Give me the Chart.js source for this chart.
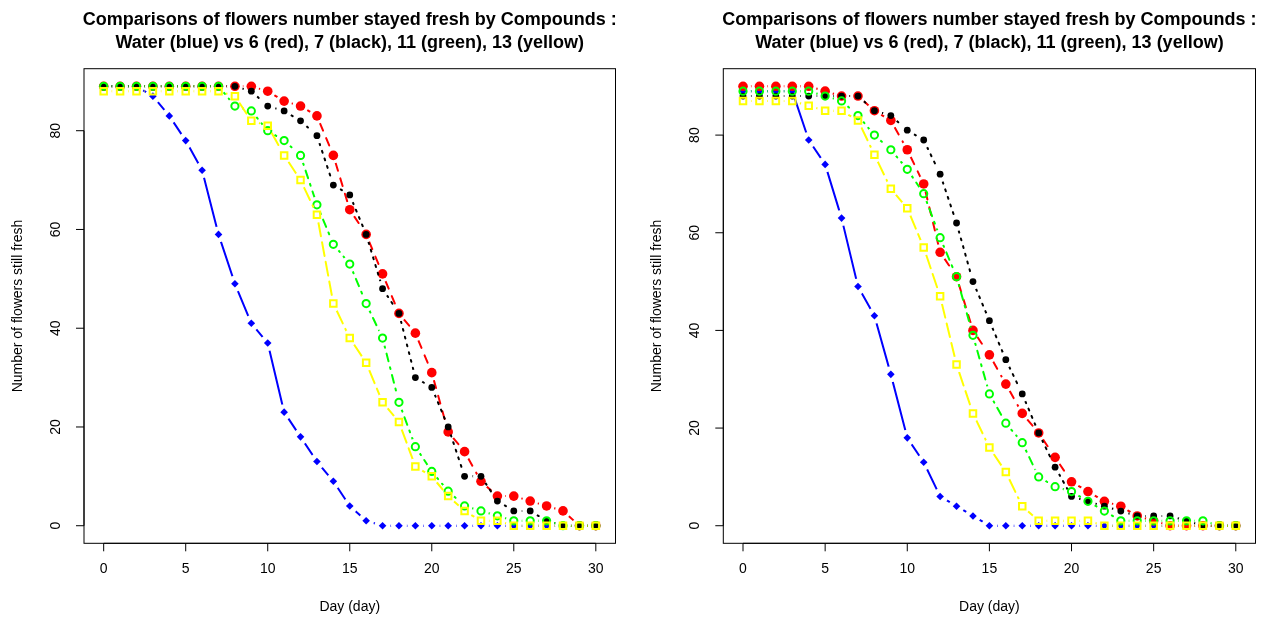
<!DOCTYPE html>
<html><head><meta charset="utf-8">
<script src="https://cdn.jsdelivr.net/npm/chart.js@4.4.1/dist/chart.umd.min.js"></script>
<style>
html,body{margin:0;padding:0;background:#fff;width:1271px;height:618px;overflow:hidden}
canvas{position:absolute;top:0}
</style></head><body>
<canvas id="c1" width="636" height="618" style="left:0px"></canvas>
<canvas id="c2" width="635" height="618" style="left:636px"></canvas>
<script>
// ---------- data ----------
const days = [0,1,2,3,4,5,6,7,8,9,10,11,12,13,14,15,16,17,18,19,20,21,22,23,24,25,26,27,28,29,30];
const xTicks = [0,5,10,15,20,25,30];
const yTicks = [0,20,40,60,80];
const titleLine1 = "Comparisons of flowers number stayed fresh by Compounds :";
const titleLine2 = "Water (blue) vs 6 (red), 7 (black), 11 (green), 13 (yellow)";
const xLabel = "Day (day)";
const yLabel = "Number of flowers still fresh";

// left panel
const leftWater = [89,89,89,87,83,78,72,59,49,41,37,23,18,13,9,4,1,0,0,0,0,0,0,0,0,0,0,0,0,0,0];
const leftC6    = [89,89,89,89,89,89,89,89,89,89,88,86,85,83,75,64,59,51,43,39,31,19,15,9,6,6,5,4,3,0,0];
const leftC7    = [89,89,89,89,89,89,89,89,89,88,85,84,82,79,69,67,59,48,43,30,28,20,10,10,5,3,3,1,0,0,0];
const leftC11   = [89,89,89,89,89,89,89,89,85,84,80,78,75,65,57,53,45,38,25,16,11,7,4,3,2,1,1,1,0,0,0];
const leftC13   = [88,88,88,88,88,88,88,88,87,82,81,75,70,63,45,38,33,25,21,12,10,6,3,1,1,0,0,0,0,0,0];

// right panel
const rightWater = [89,89,89,89,79,74,63,49,43,31,18,13,6,4,2,0,0,0,0,0,0,0,0,0,0,0,0,0,0,0,0];
const rightC6    = [90,90,90,90,90,89,88,88,85,83,77,70,56,51,40,35,29,23,19,14,9,7,5,4,2,1,0,0,0,0,0];
const rightC7    = [88,88,88,88,88,88,88,88,85,84,81,79,72,62,50,42,34,27,19,12,6,5,4,3,2,2,2,1,0,0,0];
const rightC11   = [89,89,89,89,89,88,87,84,80,77,73,68,59,51,39,27,21,17,10,8,7,5,3,1,1,1,1,1,1,0,0];
const rightC13   = [87,87,87,87,86,85,85,83,76,69,65,57,47,33,23,16,11,4,1,1,1,1,0,0,0,0,0,0,0,0,0];

// ---------- styles ----------
const GAP = 8;
const styles = [
  {color:'#0000FF', dash:[],          pointStyle:'rectRot', r:3.8, fill:true,  pbw:0},
  {color:'#FF0000', dash:[8,8],       pointStyle:'circle',  r:4.8, fill:true,  pbw:0},
  {color:'#000000', dash:[2,6],       pointStyle:'circle',  r:3.4, fill:true,  pbw:0},
  {color:'#00FF00', dash:[2,6,8,6],   pointStyle:'circle',  r:3.6, fill:false, pbw:2},
  {color:'#FFFF00', dash:[14,6],      pointStyle:'rect',    r:4.6, fill:false, pbw:2}
];
const FONT = '"Liberation Sans", Arial, Helvetica, sans-serif';

function buildDatasets(seriesValues) {
  const ds = [];
  const n = seriesValues.length;
  seriesValues.forEach((vals, k) => {
    const st = styles[k];
    const pts = days.map((d, i) => ({x: d, y: vals[i]}));
    const period = st.dash.reduce((a, b) => a + b, 0);
    const baseOff = period ? ((period - (GAP % period)) % period) : 0;
    const base = 10 * (n - k);
    ds.push({
      type: 'line', data: pts, borderColor: st.color, backgroundColor: st.color,
      borderWidth: 2, borderDash: st.dash, borderCapStyle: period ? 'round' : 'butt', borderJoinStyle: 'round',
      pointRadius: 0, pointHoverRadius: 0, fill: false, tension: 0, order: base + 1,
      gapLine: true,
      segment: period ? { borderDashOffset: c => baseOff + (c.p0DataIndex % 2) * period } : undefined
    });
    ds.push({
      type: 'line', data: pts, showLine: false, borderColor: st.color,
      pointStyle: st.pointStyle, pointRadius: st.r, pointHoverRadius: st.r,
      pointBackgroundColor: st.fill ? st.color : 'rgba(0,0,0,0)',
      pointBorderColor: st.color, pointBorderWidth: st.pbw, order: base
    });
  });
  return ds;
}

// clip each line so that it stops GAP px short of its own points (R type="b")
const gapPlugin = {
  id: 'gapPlugin',
  beforeDatasetDraw(chart, args) {
    const ds = chart.data.datasets[args.index];
    if (!ds.gapLine) return;
    const ctx = chart.ctx;
    ctx.save();
    ctx.beginPath();
    ctx.rect(0, 0, chart.width, chart.height);
    args.meta.data.forEach(p => {
      ctx.moveTo(p.x + GAP, p.y);
      ctx.arc(p.x, p.y, GAP, 0, Math.PI * 2);
    });
    ctx.clip('evenodd');
  },
  afterDatasetDraw(chart, args) {
    const ds = chart.data.datasets[args.index];
    if (!ds.gapLine) return;
    chart.ctx.restore();
  }
};

// R-like frame, ticks and texts, placed through the chart scales
const rAxes = {
  id: 'rAxes',
  afterDraw(chart) {
    const ctx = chart.ctx;
    const a = chart.chartArea;
    const xs = chart.scales.x, ys = chart.scales.y;
    ctx.save();
    ctx.strokeStyle = '#000';
    ctx.lineWidth = 1;
    ctx.strokeRect(a.left, a.top, a.right - a.left, a.bottom - a.top);
    ctx.fillStyle = '#000';
    ctx.font = '14px ' + FONT;
    ctx.textAlign = 'center';
    ctx.textBaseline = 'middle';
    ctx.beginPath();
    const x0 = xs.getPixelForValue(xTicks[0]), x1 = xs.getPixelForValue(xTicks[xTicks.length - 1]);
    ctx.moveTo(x0, a.bottom); ctx.lineTo(x1, a.bottom);
    xTicks.forEach(t => {
      const px = xs.getPixelForValue(t);
      ctx.moveTo(px, a.bottom); ctx.lineTo(px, a.bottom + 8);
    });
    const y0 = ys.getPixelForValue(yTicks[0]), y1 = ys.getPixelForValue(yTicks[yTicks.length - 1]);
    ctx.moveTo(a.left, y0); ctx.lineTo(a.left, y1);
    yTicks.forEach(t => {
      const py = ys.getPixelForValue(t);
      ctx.moveTo(a.left, py); ctx.lineTo(a.left - 8, py);
    });
    ctx.stroke();
    xTicks.forEach(t => ctx.fillText(String(t), xs.getPixelForValue(t), a.bottom + 26));
    yTicks.forEach(t => {
      ctx.save();
      ctx.translate(a.left - 28, ys.getPixelForValue(t));
      ctx.rotate(-Math.PI / 2);
      ctx.fillText(String(t), 0, 0);
      ctx.restore();
    });
    ctx.fillText(xLabel, (a.left + a.right) / 2, 607);
    ctx.save();
    ctx.translate(a.left - 66, (a.top + a.bottom) / 2);
    ctx.rotate(-Math.PI / 2);
    ctx.fillText(yLabel, 0, 0);
    ctx.restore();
    ctx.font = 'bold 18px ' + FONT;
    ctx.fillText(titleLine1, (a.left + a.right) / 2, 20);
    ctx.fillText(titleLine2, (a.left + a.right) / 2, 43);
    ctx.restore();
  }
};

function makeChart(id, seriesValues, box, canvasW) {
  const all = [].concat(...seriesValues);
  const ymax = Math.max(...all), ymin = Math.min(...all);
  const yr = ymax - ymin;
  const xr = days[days.length - 1] - days[0];
  return new Chart(document.getElementById(id), {
    type: 'line',
    data: { datasets: buildDatasets(seriesValues) },
    options: {
      responsive: false, animation: false, devicePixelRatio: 1,
      layout: { padding: { left: box.left, right: canvasW - box.right, top: box.top, bottom: 618 - box.bottom } },
      plugins: { legend: { display: false }, tooltip: { enabled: false }, title: { display: false } },
      events: [],
      scales: {
        x: { type: 'linear', display: false, min: days[0] - 0.04 * xr, max: days[days.length - 1] + 0.04 * xr },
        y: { type: 'linear', display: false, min: ymin - 0.04 * yr, max: ymax + 0.04 * yr }
      }
    },
    plugins: [gapPlugin, rAxes]
  });
}

makeChart('c1', [leftWater, leftC6, leftC7, leftC11, leftC13], {left: 84, right: 615.5, top: 68.7, bottom: 543.3}, 636);
makeChart('c2', [rightWater, rightC6, rightC7, rightC11, rightC13], {left: 87.3, right: 619.5, top: 68.7, bottom: 543.3}, 635);
</script>
</body></html>
